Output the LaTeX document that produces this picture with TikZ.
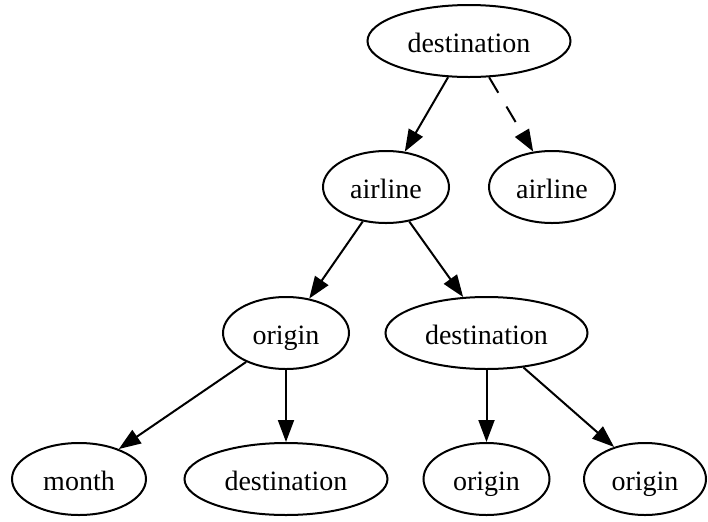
\documentclass[tikz,border=0pt]{standalone}
\usepackage{fontspec}
\setmainfont{Liberation Serif}
\usetikzlibrary{shapes.geometric,arrows.meta}

\begin{document}
\begin{tikzpicture}[x=0.5pt,y=-0.5pt,
    vertex/.style={draw,ellipse,line width=1pt,inner sep=0pt,
      minimum height=36pt,text height=11pt,text depth=0pt,
      font=\fontsize{14}{16}\selectfont},
    edge/.style={line width=1pt,-{Triangle[length=11pt,width=8pt]}}]
    \useasboundingbox (0,0) rectangle (708,521);
    % tree levels
    \node[vertex,minimum width=101.5pt] (dst0) at (469,41) {destination};
    \node[vertex,minimum width=63pt] (alL) at (386,187) {airline};
    \node[vertex,minimum width=63pt] (alR) at (552,187) {airline};
    \node[vertex,minimum width=63pt] (orL) at (286,333) {origin};
    \node[vertex,minimum width=101pt] (dstM) at (486.5,333) {destination};
    \node[vertex,minimum width=67pt] (mon) at (79,479) {month};
    \node[vertex,minimum width=101.5pt] (dstB) at (286,479) {destination};
    \node[vertex,minimum width=63pt] (orB) at (486.5,479) {origin};
    \node[vertex,minimum width=61pt] (orR) at (645,479) {origin};
    % edges
    \draw[edge] (dst0.240) -- (alL.62);
    \draw[edge,dash pattern=on 9pt off 8pt] (dst0.299) -- (alR.118);
    \draw[edge] (alL.236) -- (orL.56);
    \draw[edge] (alL.304) -- (dstM.123);
    \draw[edge] (orL.216) -- (mon.37);
    \draw[edge] (orL.270) -- (dstB.90);
    \draw[edge] (dstM.270) -- (orB.90);
    \draw[edge] (dstM.317) -- (orR.134);
\end{tikzpicture}
\end{document}
